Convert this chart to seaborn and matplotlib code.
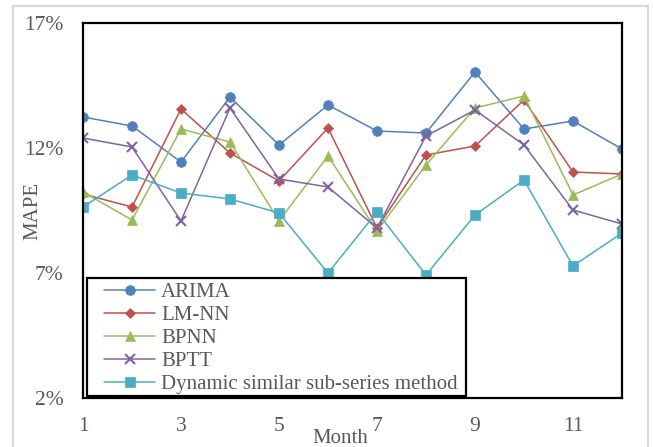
import matplotlib
matplotlib.use("Agg")
import matplotlib.pyplot as plt
import seaborn as sns
import pandas as pd
from matplotlib.patches import Rectangle

months = list(range(1, 13))
arima = [13.24, 12.88, 11.44, 14.04, 12.12, 13.72, 12.68, 12.60, 15.04, 12.76, 13.08, 11.96]
lmnn = [10.16, 9.64, 13.56, 11.80, 10.68, 12.80, 8.80, 11.72, 12.08, 13.92, 11.04, 10.96]
bpnn = [10.24, 9.12, 12.76, 12.24, 9.08, 11.68, 8.68, 11.32, 13.60, 14.08, 10.12, 10.96]
bptt = [12.40, 12.04, 9.08, 13.60, 10.76, 10.44, 8.80, 12.48, 13.52, 12.12, 9.52, 8.96]
dynamic = [9.64, 10.92, 10.20, 9.96, 9.40, 7.00, 9.44, 6.92, 9.32, 10.72, 7.28, 8.60]

series_names = ["ARIMA", "LM-NN", "BPNN", "BPTT", "Dynamic similar sub-series method"]
series_vals = [arima, lmnn, bpnn, bptt, dynamic]
xticks = [1, 3, 5, 7, 9, 11]
yticks = [2, 7, 12, 17]
ytick_labels = ["2%", "7%", "12%", "17%"]

colors = ["#4F81BD", "#C0504D", "#9BBB59", "#8064A2", "#4BACC6"]
markers = ["o", "D", "^", "x", "s"]
msizes = [7, 5.5, 7.5, 7, 7]

sns.set_style("white")
plt.rcParams["font.family"] = ["Liberation Serif", "DejaVu Serif"]

rows = []
for name, vals in zip(series_names, series_vals):
    for m, v in zip(months, vals):
        rows.append({"Month": m, "MAPE": v, "Method": name})
df = pd.DataFrame(rows)

W, H = 653, 447
fig = plt.figure(figsize=(6.53, 4.47), dpi=100)
ax_l, ax_r, ax_t, ax_b = 83, 622, 23, 398
ax = fig.add_axes([ax_l/W, 1-ax_b/H, (ax_r-ax_l)/W, (ax_b-ax_t)/H])

for name, c, mk, ms in zip(series_names, colors, markers, msizes):
    sub = df[df["Method"] == name]
    sns.lineplot(data=sub, x="Month", y="MAPE", ax=ax, color=c, marker=mk,
                 markersize=ms, linewidth=1.1, label=name,
                 markeredgecolor=c, markeredgewidth=1.5 if mk == "x" else 0.5)

ax.set_xlim(1, 12)
ax.set_ylim(2, 17)
ax.set_xticks(xticks)
ax.set_xticklabels([str(t) for t in xticks])
ax.set_yticks(yticks)
ax.set_yticklabels(ytick_labels)
tc = "#595959"
ax.tick_params(axis="both", direction="in", length=6, width=1.5, color="black",
               labelsize=15.5, labelcolor=tc)
ax.tick_params(axis="x", pad=13.5)
ax.tick_params(axis="y", pad=14)
for sp in ax.spines.values():
    sp.set_color("black")
    sp.set_linewidth(1.6)
    sp.set_visible(True)

def px_x(p):
    return (p - ax_l) / (ax_r - ax_l)

def px_y(p):
    return (ax_b - p) / (ax_b - ax_t)

ax.set_xlabel("Month", fontsize=15, color=tc)
ax.xaxis.set_label_coords(px_x(340), -0.082)
ax.set_ylabel("MAPE", fontsize=15, color=tc)
ax.yaxis.set_label_coords(px_x(42), 0.5)

leg = ax.legend(loc="lower left", bbox_to_anchor=(px_x(104), px_y(394)), borderaxespad=0,
                fontsize=15, frameon=False, labelspacing=0.16, handlelength=2.45,
                handletextpad=0.29, borderpad=0, ncol=1)
for t in leg.get_texts():
    t.set_color(tc)

# legend frame
ax.add_patch(Rectangle((px_x(87), px_y(396)), px_x(466) - px_x(87), px_y(278) - px_y(396),
                       transform=ax.transAxes, fill=True, facecolor="white",
                       edgecolor="black", linewidth=1.6, zorder=4))
leg.set_zorder(5)

fig.patches.append(Rectangle((13/W, -0.05), (648-13)/W, 1.05 - 6/H,
                             transform=fig.transFigure, fill=False,
                             edgecolor="#D9D9D9", linewidth=1.5))

fig.savefig("out.png", dpi=100)
